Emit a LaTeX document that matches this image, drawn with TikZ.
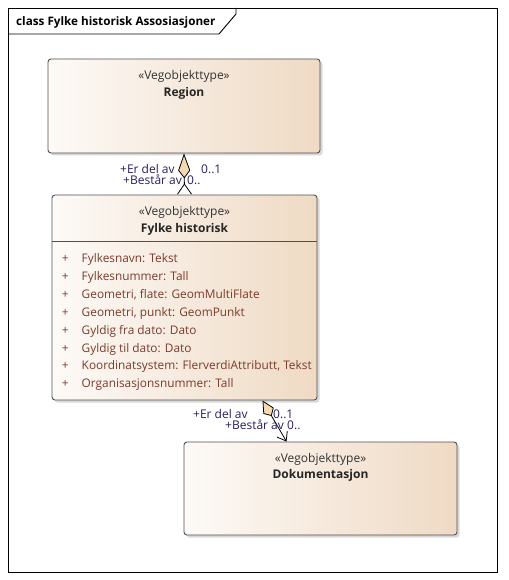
\documentclass[tikz,border=0pt]{standalone}
\usepackage{fontspec}
\setmainfont{Open Sans}
\usetikzlibrary{arrows.meta,shadows}
\definecolor{lys}{HTML}{FDFAF7}
\definecolor{moerk}{HTML}{EFDAC4}
\definecolor{kant}{HTML}{505050}
\definecolor{ruter}{HTML}{F7D9B1}
\definecolor{attr}{HTML}{7B3B2B}
\definecolor{rolle}{HTML}{25205E}
\tikzstyle{klasse} = [rectangle, draw=kant, line width=0.9pt, rounded corners=3pt,
    left color=lys, right color=moerk, inner sep=0pt,
    drop shadow={shadow xshift=2.5pt, shadow yshift=-2.5pt, fill=black!30, opacity=0.5}]
\tikzstyle{stereo} = [text=black!80, font=\fontsize{12}{14}\selectfont, inner sep=0pt, anchor=base]
\tikzstyle{navn} = [text=black!85, font=\bfseries\fontsize{12}{14}\selectfont, inner sep=0pt, anchor=base]
\tikzstyle{rolle} = [text=rolle, font=\fontsize{12}{14}\selectfont, inner sep=0pt, anchor=base west]
\tikzstyle{assoc} = [draw, line width=0.8pt]

\begin{document}
\begin{tikzpicture}[x=1pt, y=-1pt]
  \useasboundingbox (0,0) rectangle (508,580);
  \draw [line width=0.9pt] (8,8) rectangle (497,572);
  \draw [line width=0.9pt] (8,34) -- (219,34) -- (236,14) -- (236,8);
  \node [anchor=base west, inner sep=0pt, font=\bfseries\fontsize{11.7}{14}\selectfont] (tittel) at (16,26) {class Fylke historisk Assosiasjoner};

  \node [klasse, minimum width=272pt, minimum height=94pt] (reg) at (184,106) {};
  \node [stereo] (reg-st) at ([yshift=-21pt]reg.north) {«Vegobjekttype»};
  \node [navn] (reg-navn) at ([yshift=-38pt]reg.north) {Region};

  \node [klasse, minimum width=265pt, minimum height=205pt] (fyl) at (184.5,297.5) {};
  \node [stereo] (fyl-st) at ([yshift=-21pt]fyl.north) {«Vegobjekttype»};
  \node [navn] (fyl-navn) at ([yshift=-38pt]fyl.north) {Fylke historisk};
  \draw [draw=kant, line width=0.9pt] ([yshift=-47pt]fyl.north west) -- ([yshift=-47pt]fyl.north east);
  \node [anchor=base west, inner sep=0pt, text=attr, font=\fontsize{11.85}{17.9}\selectfont] (fyl-attr)
    at ([xshift=10pt,yshift=-68pt]fyl.north west) {\begin{tabular}[t]{@{}p{20pt}@{}l@{}}
    + & Fylkesnavn: Tekst\\
    + & Fylkesnummer: Tall\\
    + & Geometri, flate: GeomMultiFlate\\
    + & Geometri, punkt: GeomPunkt\\
    + & Gyldig fra dato: Dato\\
    + & Gyldig til dato: Dato\\
    + & Koordinatsystem: FlerverdiAttributt, Tekst\\
    + & Organisasjonsnummer: Tall
    \end{tabular}};

  \node [klasse, minimum width=273pt, minimum height=93pt] (dok) at (320.5,488.5) {};
  \node [stereo] (dok-st) at ([yshift=-21pt]dok.north) {«Vegobjekttype»};
  \node [navn] (dok-navn) at ([yshift=-37pt]dok.north) {Dokumentasjon};

  \path [assoc, {Kite[length=25pt,width=12pt,inset=8pt,fill=ruter]}-{Straight Barb[reversed,length=10pt,width=14pt]}] (reg.south) -- (fyl.north);
  \path [assoc, {Kite[length=18pt,width=12pt,inset=6pt,fill=ruter]}-{Straight Barb[length=8pt,width=12pt]}] ([xshift=78pt]fyl.south) -- ([xshift=-34pt]dok.north);

  \node [rolle] (r1) at (120,173) {+Er del av};
  \node [rolle] (m1) at (201,173) {0..1};
  \node [rolle] (r2) at (123,184) {+Består av};
  \node [rolle] (m2) at (187,184) {0..};
  \node [rolle] (r3) at (193,418) {+Er del av};
  \node [rolle] (m3) at (273,418) {0..1};
  \node [rolle] (r4) at (225,429) {+Består av};
  \node [rolle] (m4) at (287,429) {0..};
\end{tikzpicture}
\end{document}
